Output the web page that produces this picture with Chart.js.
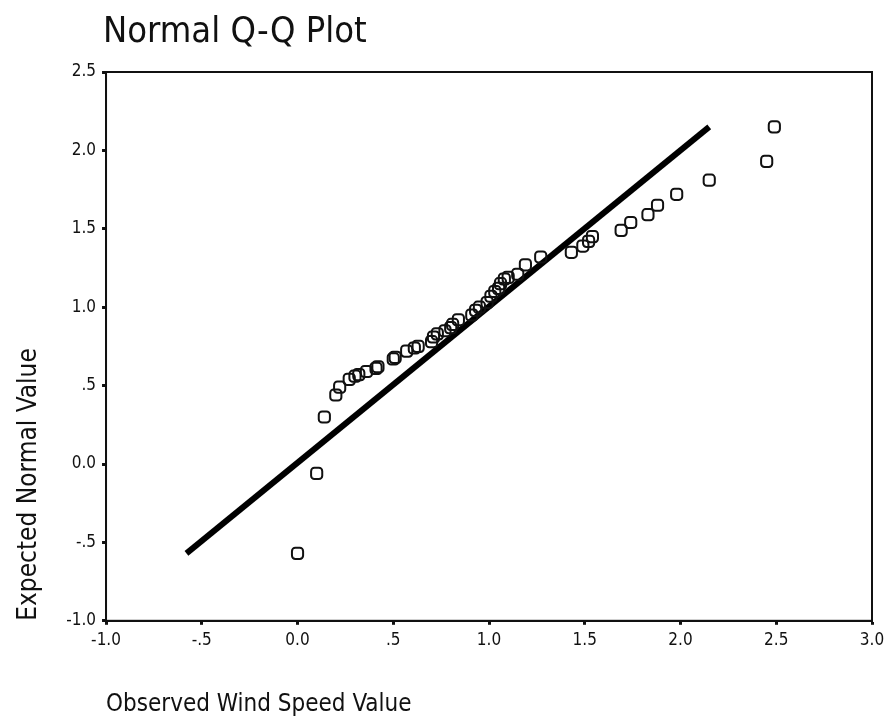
<!DOCTYPE html>
<html>
<head>
<meta charset="utf-8">
<script src="https://cdn.jsdelivr.net/npm/chart.js@4/dist/chart.umd.min.js"></script>
<style>
    html, body { margin: 0; padding: 0; background: #fff; }
    #wrap { width: 885px; height: 719px; }
</style>
</head>
<body>
<div id="wrap"><canvas id="qqChart" width="885" height="719"></canvas></div>
<script>
// observed wind speed quantiles vs expected normal values
const observed = [0.00, 0.10, 0.14, 0.20, 0.22, 0.27, 0.30, 0.32, 0.36, 0.41, 0.42,
    0.50, 0.51, 0.57, 0.61, 0.63, 0.70, 0.71, 0.73, 0.77, 0.80, 0.81, 0.84,
    0.91, 0.93, 0.95, 0.99, 1.01, 1.03, 1.05, 1.06, 1.08, 1.10, 1.15, 1.19,
    1.27, 1.43, 1.49, 1.52, 1.54, 1.69, 1.74, 1.83, 1.88, 1.98, 2.15, 2.45, 2.49];
const expected = [-0.57, -0.06, 0.30, 0.44, 0.49, 0.54, 0.56, 0.57, 0.59, 0.61, 0.62,
    0.67, 0.68, 0.72, 0.74, 0.75, 0.78, 0.81, 0.83, 0.85, 0.87, 0.89, 0.92,
    0.95, 0.98, 1.00, 1.03, 1.07, 1.10, 1.12, 1.15, 1.18, 1.19, 1.21, 1.27,
    1.32, 1.35, 1.39, 1.42, 1.45, 1.49, 1.54, 1.59, 1.65, 1.72, 1.81, 1.93, 2.15];

// reference line
const fitX = [-0.58, 2.15];
const fitY = [-0.57, 2.15];

const xTicks = [-1, -0.5, 0, 0.5, 1, 1.5, 2, 2.5, 3];
const xTickLabels = ['-1.0', '-.5', '0.0', '.5', '1.0', '1.5', '2.0', '2.5', '3.0'];
const yTicks = [-1, -0.5, 0, 0.5, 1, 1.5, 2, 2.5];
const yTickLabels = ['-1.0', '-.5', '0.0', '.5', '1.0', '1.5', '2.0', '2.5'];

const FONT = '"DejaVu Sans Condensed", "DejaVu Sans", sans-serif';

const framePlugin = {
    id: 'frame',
    afterDraw(chart) {
        const { ctx, chartArea: a } = chart;
        ctx.save();
        ctx.strokeStyle = '#111';
        ctx.lineWidth = 2;
        ctx.strokeRect(a.left, a.top, a.right - a.left, a.bottom - a.top);
        ctx.fillStyle = '#111';
        ctx.font = '36px ' + FONT;
        ctx.textBaseline = 'alphabetic';
        ctx.fillText('Normal Q-Q Plot', a.left - 3, 42);
        ctx.restore();
    }
};

const pts = observed.map((x, i) => ({ x: x, y: expected[i] }));
const line = fitX.map((x, i) => ({ x: x, y: fitY[i] }));

new Chart(document.getElementById('qqChart'), {
    type: 'scatter',
    data: {
        datasets: [{
            label: 'Observed',
            data: pts,
            pointStyle: 'rectRounded',
            pointRadius: 6.5,
            pointHoverRadius: 6.5,
            pointBorderWidth: 2,
            borderColor: '#111',
            backgroundColor: 'rgba(0,0,0,0)'
        }, {
            label: 'Line',
            data: line,
            showLine: true,
            borderColor: '#000',
            borderWidth: 6,
            pointRadius: 0
        }]
    },
    options: {
        responsive: false,
        animation: false,
        layout: { padding: { top: 72, left: 14, right: 0, bottom: 0 } },
        plugins: {
            legend: { display: false },
            tooltip: { enabled: false }
        },
        scales: {
            x: {
                type: 'linear',
                min: -1, max: 3,
                afterBuildTicks: s => { s.ticks = xTicks.map(v => ({ value: v })); },
                // let the last label run up to the canvas edge
                afterFit: s => { s.paddingRight = 13; },
                border: { color: '#111', width: 2 },
                grid: { drawOnChartArea: false, drawTicks: true, tickLength: 4, tickWidth: 3, color: '#111' },
                ticks: {
                    color: '#111',
                    font: { family: FONT, size: 17 },
                    padding: 6,
                    maxRotation: 0,
                    callback: v => xTickLabels[xTicks.indexOf(v)]
                },
                title: {
                    display: true,
                    text: 'Observed Wind Speed Value',
                    align: 'start',
                    color: '#111',
                    font: { family: FONT, size: 24 },
                    padding: { top: 33, bottom: 0 }
                }
            },
            y: {
                type: 'linear',
                min: -1, max: 2.5,
                afterBuildTicks: s => { s.ticks = yTicks.map(v => ({ value: v })); },
                border: { color: '#111', width: 2 },
                grid: { drawOnChartArea: false, drawTicks: true, tickLength: 4, tickWidth: 3, color: '#111' },
                ticks: {
                    color: '#111',
                    font: { family: FONT, size: 17 },
                    padding: 6,
                    callback: v => yTickLabels[yTicks.indexOf(v)]
                },
                title: {
                    display: true,
                    text: 'Expected Normal Value',
                    align: 'start',
                    color: '#111',
                    font: { family: FONT, size: 26 },
                    padding: { top: 0, bottom: 15 }
                }
            }
        }
    },
    plugins: [framePlugin]
});
</script>
</body>
</html>
